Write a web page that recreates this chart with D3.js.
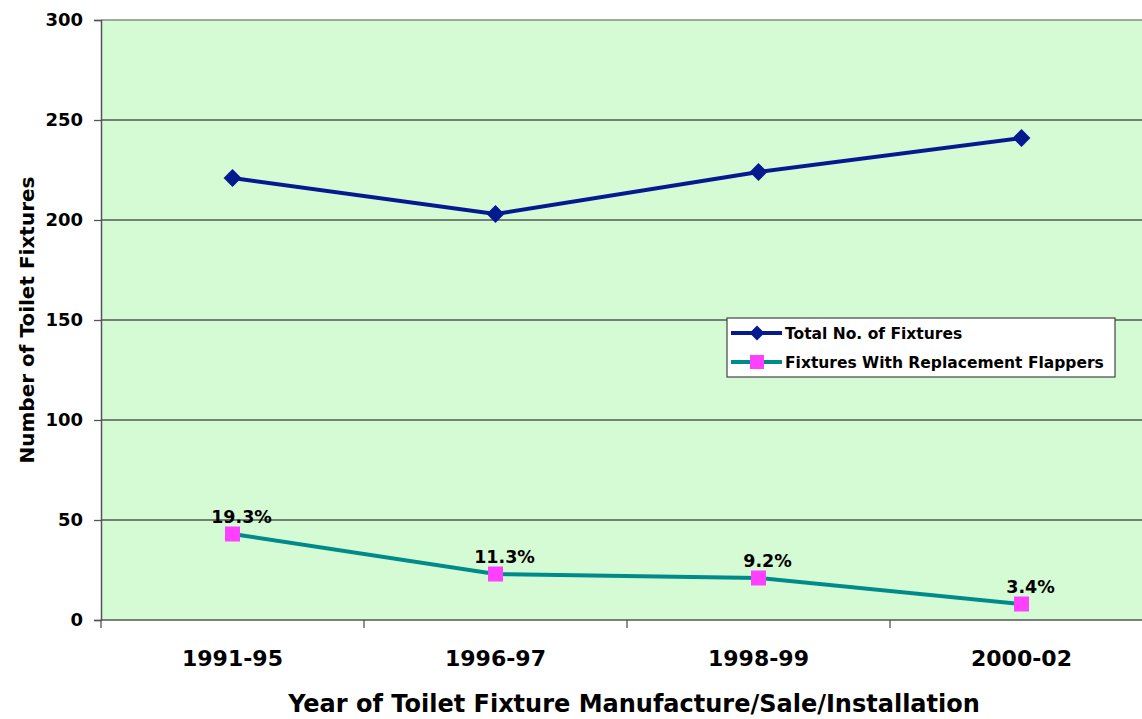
<!DOCTYPE html>
<html>
<head>
<meta charset="utf-8">
<script src="https://cdn.jsdelivr.net/npm/d3@7"></script>
<style>
  body { margin: 0; background: #fff; overflow: hidden; }
  svg { display: block; font-family: "DejaVu Sans", Verdana, sans-serif; font-weight: bold; }
</style>
</head>
<body>
<svg id="chart"></svg>
<script>
const periods = ["1991-95", "1996-97", "1998-99", "2000-02"];
const totalFixtures = [221, 203, 224, 241];
const flapperFixtures = [43, 23, 21, 8];
const flapperLabels = ["19.3%", "11.3%", "9.2%", "3.4%"];
const yTicks = [0, 50, 100, 150, 200, 250, 300];
const seriesNames = ["Total No. of Fixtures", "Fixtures With Replacement Flappers"];

const W = 1142, H = 719;
const margin = { top: 20, left: 101 };
const plotH = 600;
const bandW = 263;

const svg = d3.select("#chart").attr("width", W).attr("height", H);

const x = d3.scaleBand()
    .domain(periods)
    .range([margin.left, margin.left + bandW * periods.length]);

const y = d3.scaleLinear()
    .domain([0, 300])
    .range([margin.top + plotH, margin.top]);

const cx = d => x(d) + x.bandwidth() / 2;

// plot background
svg.append("rect")
    .attr("x", margin.left)
    .attr("y", margin.top)
    .attr("width", bandW * periods.length)
    .attr("height", plotH)
    .attr("fill", "#d5fbd5");

// gridlines
svg.append("g")
    .selectAll("line")
    .data(yTicks.filter(t => t > 0))
    .enter()
    .append("line")
    .attr("x1", margin.left)
    .attr("x2", margin.left + bandW * periods.length)
    .attr("y1", d => y(d))
    .attr("y2", d => y(d))
    .attr("stroke", d => d === 300 ? "#8a8a8a" : "#505a50")
    .attr("stroke-width", 1.4);

// y axis
const yAxis = d3.axisLeft(y).tickValues(yTicks).tickSize(7).tickPadding(11);
const gy = svg.append("g")
    .attr("transform", `translate(${margin.left},0)`)
    .call(yAxis);
gy.select(".domain").attr("stroke", "#555").attr("stroke-width", 1.5);
gy.selectAll(".tick line").attr("stroke", "#555").attr("stroke-width", 1.3);
gy.selectAll("text")
    .attr("font-size", 18)
    .attr("font-family", "DejaVu Sans")
    .attr("font-weight", "bold")
    .attr("fill", "#000");

// x axis: ticks between categories
const gx = svg.append("g")
    .attr("transform", `translate(0,${y(0)})`);
gx.append("line")
    .attr("x1", margin.left)
    .attr("x2", margin.left + bandW * periods.length)
    .attr("stroke", "#555")
    .attr("stroke-width", 1.5);
gx.selectAll(".sep")
    .data(periods)
    .enter()
    .append("line")
    .attr("x1", d => x(d))
    .attr("x2", d => x(d))
    .attr("y1", 0)
    .attr("y2", 8)
    .attr("stroke", "#555")
    .attr("stroke-width", 1.3);
gx.selectAll(".lbl")
    .data(periods)
    .enter()
    .append("text")
    .attr("x", d => cx(d))
    .attr("y", 46)
    .attr("text-anchor", "middle")
    .attr("font-size", 22)
    .attr("fill", "#000")
    .text(d => d);

// axis titles
svg.append("text")
    .attr("x", 634)
    .attr("y", 712)
    .attr("text-anchor", "middle")
    .attr("font-size", 24)
    .attr("fill", "#000")
    .text("Year of Toilet Fixture Manufacture/Sale/Installation");

svg.append("text")
    .attr("transform", `translate(34,${y(150)}) rotate(-90)`)
    .attr("text-anchor", "middle")
    .attr("font-size", 20)
    .attr("fill", "#000")
    .text("Number of Toilet Fixtures");

// lines
const line = d3.line().x(d => cx(d.p)).y(d => y(d.v));
const totalData = periods.map((p, i) => ({ p, v: totalFixtures[i] }));
const flapData = periods.map((p, i) => ({ p, v: flapperFixtures[i], label: flapperLabels[i] }));

svg.append("path")
    .datum(totalData)
    .attr("fill", "none")
    .attr("stroke", "#061a90")
    .attr("stroke-width", 4)
    .attr("d", line);

svg.append("path")
    .datum(flapData)
    .attr("fill", "none")
    .attr("stroke", "#008b8b")
    .attr("stroke-width", 4)
    .attr("d", line);

const diamond = d3.symbol().type(d3.symbolSquare).size(160);
svg.selectAll(".dia")
    .data(totalData)
    .enter()
    .append("path")
    .attr("d", diamond)
    .attr("transform", d => `translate(${cx(d.p)},${y(d.v)}) rotate(45)`)
    .attr("fill", "#061a90");

svg.selectAll(".sq")
    .data(flapData)
    .enter()
    .append("rect")
    .attr("x", d => cx(d.p) - 7.5)
    .attr("y", d => y(d.v) - 7.5)
    .attr("width", 15)
    .attr("height", 15)
    .attr("fill", "#ff40ff");

svg.selectAll(".plbl")
    .data(flapData)
    .enter()
    .append("text")
    .attr("x", d => cx(d.p) + 9)
    .attr("y", d => y(d.v) - 11)
    .attr("text-anchor", "middle")
    .attr("font-size", 17.5)
    .attr("fill", "#000")
    .text(d => d.label);

// legend
const lg = svg.append("g").attr("transform", "translate(727,318)");
lg.append("rect")
    .attr("width", 388)
    .attr("height", 59)
    .attr("fill", "#fff")
    .attr("stroke", "#444")
    .attr("stroke-width", 1.2);
const colors = [["#061a90", "#061a90"], ["#008b8b", "#ff40ff"]];
seriesNames.forEach((name, i) => {
    const row = lg.append("g").attr("transform", `translate(0,${15 + i * 29})`);
    row.append("line")
        .attr("x1", 4).attr("x2", 55)
        .attr("stroke", colors[i][0])
        .attr("stroke-width", 4);
    if (i === 0) {
        row.append("path")
            .attr("d", d3.symbol().type(d3.symbolSquare).size(110))
            .attr("transform", "translate(30,0) rotate(45)")
            .attr("fill", colors[i][1]);
    } else {
        row.append("rect")
            .attr("x", 23).attr("y", -7).attr("width", 14).attr("height", 14)
            .attr("fill", colors[i][1]);
    }
    row.append("text")
        .attr("x", 58)
        .attr("y", 6)
        .attr("font-size", 15.5)
        .attr("fill", "#000")
        .text(name);
});
</script>
</body>
</html>
